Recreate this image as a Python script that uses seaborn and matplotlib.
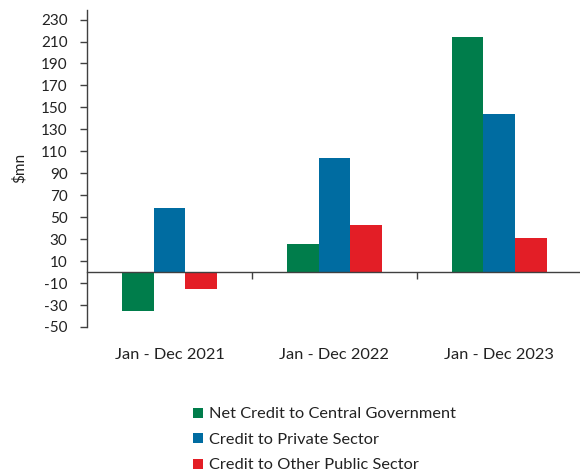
import matplotlib
matplotlib.use("Agg")
import matplotlib.pyplot as plt
import seaborn as sns
import pandas as pd

periods = ["Jan - Dec 2021", "Jan - Dec 2022", "Jan - Dec 2023"]
series_names = [
    "Net Credit to Central Government",
    "Credit to Private Sector",
    "Credit to Other Public Sector",
]
central_gov = [-35, 26, 214]
private_sector = [58, 104, 144]
other_public = [-15, 43, 31]
colors = ["#007D4B", "#006CA1", "#E31E26"]
yticks = list(range(-50, 231, 20))

df = pd.DataFrame({
    "period": periods * 3,
    "series": [s for s in series_names for _ in periods],
    "value": central_gov + private_sector + other_public,
})

sns.set_theme(style="white")
plt.rcParams["font.family"] = ["Lato", "DejaVu Sans"]
axis_color = "#404040"
text_color = "#222222"

fig = plt.figure(figsize=(5.8, 4.75), dpi=100)
ax = fig.add_axes([0.15, 0.3116, 0.853, 0.668])

sns.barplot(data=df, x="period", y="value", hue="series", order=periods,
            hue_order=series_names, palette=colors, width=0.575,
            saturation=1, edgecolor="none", ax=ax)

ax.set_ylim(-50, 239)
ax.set_xlim(-0.5, 2.5)
ax.set_yticks(yticks)
ax.set_yticklabels([str(v) for v in yticks], fontsize=11, color=text_color)
ax.set_ylabel("$mn", fontsize=11, color=text_color, labelpad=10)
ax.set_xlabel("")

for side in ["top", "right"]:
    ax.spines[side].set_visible(False)
ax.spines["left"].set_color(axis_color)
ax.spines["left"].set_linewidth(1.0)
ax.spines["bottom"].set_position(("data", 0))
ax.spines["bottom"].set_color(axis_color)
ax.spines["bottom"].set_linewidth(1.0)

ax.tick_params(axis="y", direction="out", length=5, width=1, color=axis_color,
               pad=9, left=True)
ax.set_xticks([0, 1, 2])
ax.set_xticklabels(periods, fontsize=11.8, color=text_color)
ax.tick_params(axis="x", which="major", length=0, pad=55, bottom=True)
ax.set_xticks([0.5, 1.5], minor=True)
ax.tick_params(axis="x", which="minor", direction="out", length=5, width=1,
               color=axis_color, bottom=True)

handles, labels = ax.get_legend_handles_labels()
ax.get_legend().remove()
fig.legend(handles, labels, loc="upper left", bbox_to_anchor=(0.323, 0.156),
           frameon=False, fontsize=11.8, handlelength=0.65, handleheight=0.65,
           handletextpad=0.4, labelspacing=0.76, borderaxespad=0,
           prop={"family": ["Lato", "DejaVu Sans"]})
for t in fig.legends[0].get_texts():
    t.set_color(text_color)
    t.set_fontsize(11.8)

fig.savefig("out.png", dpi=100)
